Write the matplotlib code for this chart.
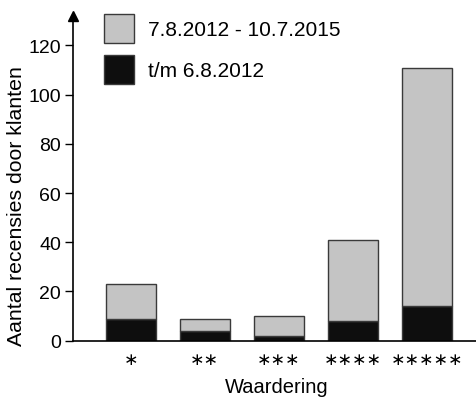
import matplotlib
matplotlib.use("Agg")
import matplotlib.pyplot as plt
from matplotlib.patches import Patch

categories = ["∗", "∗∗", "∗∗∗", "∗∗∗∗", "∗∗∗∗∗"]
before = [9, 4, 2, 8, 14]          # t/m 6.8.2012
after = [14, 5, 8, 33, 97]         # 7.8.2012 - 10.7.2015 (stacked on top)
label_after = "7.8.2012 - 10.7.2015"
label_before = "t/m 6.8.2012"
yticks = [0, 20, 40, 60, 80, 100, 120]

plt.rcParams['font.family'] = ['Liberation Sans', 'DejaVu Sans']

fig = plt.figure(figsize=(4.76, 4.02), dpi=100)
ax = fig.add_axes([0.153, 0.15, 0.847, 0.808])

x = list(range(len(categories)))
gray = "#c4c4c4"
black = "#0e0e0e"
edge = "#3a3a3a"
ax.bar(x, before, width=0.676, color=black, edgecolor=edge, linewidth=1.0, zorder=2)
ax.bar(x, after, bottom=before, width=0.676, color=gray, edgecolor=edge, linewidth=1.0, zorder=2)

ax.set_xlim(-0.78, 4.66)
ax.set_ylim(0, 132)
ax.set_yticks(yticks)
ax.set_yticklabels([str(t) for t in yticks], fontsize=14)
ax.set_xticks(x)
ax.set_xticklabels(categories, fontsize=12.5, family='DejaVu Sans')
ax.tick_params(axis='x', length=0, pad=7)
ax.tick_params(axis='y', length=6, width=1, direction='out', pad=2.5)

for s in ['top', 'right']:
    ax.spines[s].set_visible(False)
ax.spines['left'].set_linewidth(1.2)
ax.spines['bottom'].set_linewidth(1.2)
ax.plot([0], [1], marker='^', color='black', markersize=7, transform=ax.transAxes, clip_on=False)

ax.set_ylabel("Aantal recensies door klanten", fontsize=15.3)
ax.yaxis.set_label_coords(-0.117, 0.418)
ax.set_xlabel("Waardering", fontsize=14.5, va='baseline')
ax.xaxis.set_label_coords(0.505, -0.158)

handles = [Patch(facecolor=gray, edgecolor=edge, linewidth=1.0, label=label_after),
           Patch(facecolor=black, edgecolor=edge, linewidth=1.0, label=label_before)]
ax.legend(handles=handles, loc='upper left', bbox_to_anchor=(0.04, 1.051), frameon=False,
          fontsize=15, handlelength=1.44, handleheight=1.74, labelspacing=0.61, handletextpad=0.7,
          borderpad=0.2)

fig.savefig("out.png", dpi=100)
